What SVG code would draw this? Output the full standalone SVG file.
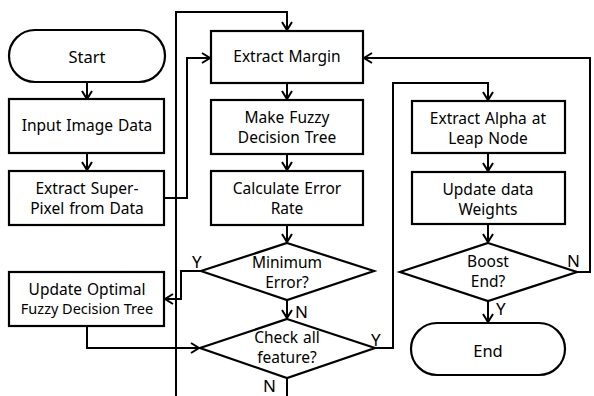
<svg xmlns="http://www.w3.org/2000/svg" width="594" height="396" viewBox="0 0 594 396">
<style>
.n{fill:#fff;stroke:#000;stroke-width:2.2}
.t{font-family:"Noto Sans","Liberation Sans",sans-serif;font-size:15.5px;fill:#000;text-anchor:middle;word-spacing:1px}
.l{font-family:"Noto Sans","Liberation Sans",sans-serif;font-size:17px;fill:#000}
.c{fill:none;stroke:#000;stroke-width:2;marker-end:url(#a)}
.p{fill:none;stroke:#000;stroke-width:2}
</style>
<defs>
<marker id="a" markerWidth="12" markerHeight="12" refX="10" refY="6" orient="auto" markerUnits="userSpaceOnUse">
<path d="M2,1 L10,6 L2,11" fill="none" stroke="#000" stroke-width="2"/>
</marker>
</defs>
<rect width="594" height="396" fill="#fff"/>
<g id="connectors">
<path class="c" d="M87,82 V99"/>
<path class="c" d="M87,153 V170"/>
<path class="c" d="M164,198 H187 V58 H210"/>
<path class="c" d="M176,396 V12 H287 V30"/>
<path class="c" d="M577,272 H590 V58 H364"/>
<path class="c" d="M287,83 V99"/>
<path class="c" d="M287,154 V170"/>
<path class="c" d="M287,225 V242"/>
<path class="c" d="M201,271 H181 V299 H165"/>
<path class="c" d="M287,300 V318"/>
<path class="c" d="M87,326 V348 H199"/>
<path class="p" d="M287,378 V396"/>
<path class="c" d="M375,348 H393 V83 H488 V100"/>
<path class="c" d="M488,153 V171"/>
<path class="c" d="M488,224 V242"/>
<path class="c" d="M488,301 V322"/>
</g>
<g id="start"><rect class="n" x="9" y="30" width="156" height="52" rx="26"/><text class="t" x="87" y="63" style="font-size:16.5px">Start</text></g>
<g id="input"><rect class="n" x="9" y="99" width="155" height="54"/><text class="t" x="87" y="131">Input Image Data</text></g>
<g id="superpixel"><rect class="n" x="9" y="171" width="155" height="54"/><text class="t" x="87" y="194">Extract Super-</text><text class="t" x="87" y="214">Pixel from Data</text></g>
<g id="margin"><rect class="n" x="211" y="31" width="152" height="52"/><text class="t" x="287" y="62">Extract Margin</text></g>
<g id="fuzzy"><rect class="n" x="211" y="100" width="152" height="54"/><text class="t" x="287" y="123">Make Fuzzy</text><text class="t" x="287" y="143">Decision Tree</text></g>
<g id="error"><rect class="n" x="211" y="171" width="152" height="54"/><text class="t" x="287" y="194">Calculate Error</text><text class="t" x="287" y="214">Rate</text></g>
<g id="minimum"><polygon class="n" points="287,243 374,271 287,300 201,271"/><text class="t" x="287" y="268">Minimum</text><text class="t" x="287" y="288">Error?</text>
<text class="l" x="192" y="268">Y</text><text class="l" x="295" y="318">N</text></g>
<g id="optimal"><rect class="n" x="9" y="272" width="155" height="54"/><text class="t" x="87" y="295">Update Optimal</text><text class="t" x="87" y="314" style="font-size:14.5px;word-spacing:0">Fuzzy Decision Tree</text></g>
<g id="check"><polygon class="n" points="287,319 375,348 287,378 200,348"/><text class="t" x="287" y="343">Check all</text><text class="t" x="287" y="363">feature?</text>
<text class="l" x="371" y="346">Y</text><text class="l" x="263" y="392">N</text></g>
<g id="alpha"><rect class="n" x="412" y="101" width="153" height="52"/><text class="t" x="488" y="124">Extract Alpha at</text><text class="t" x="488" y="144">Leap Node</text></g>
<g id="weights"><rect class="n" x="412" y="172" width="153" height="52"/><text class="t" x="488" y="195">Update data</text><text class="t" x="488" y="215">Weights</text></g>
<g id="boost"><polygon class="n" points="488,243 577,272 488,301 400,272"/><text class="t" x="488" y="267">Boost</text><text class="t" x="488" y="287">End?</text>
<text class="l" x="567" y="267">N</text><text class="l" x="496" y="315">Y</text></g>
<g id="end"><rect class="n" x="411" y="323" width="154" height="52" rx="26"/><text class="t" x="488" y="357" style="font-size:16.5px">End</text></g>
</svg>
